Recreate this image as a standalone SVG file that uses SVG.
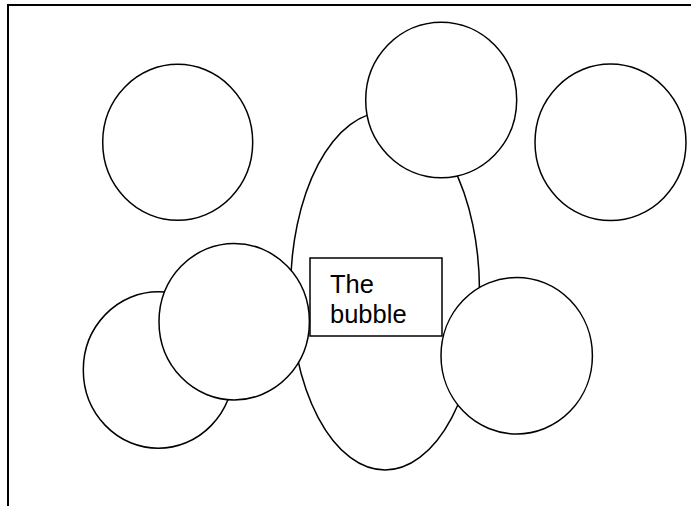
<svg xmlns="http://www.w3.org/2000/svg" width="691" height="506" viewBox="0 0 691 506">
<style>
.s{fill:#fff;stroke:#000;stroke-width:1.5}
.b{fill:none;stroke:#000;stroke-width:2}
.t{font-family:"Liberation Sans",Arial,sans-serif;font-size:25.5px;fill:#000}
</style>
<rect width="691" height="506" fill="#fff"/>
<g id="frame"><path class="b" d="M691,5 H8 V506"/></g>
<g id="connectors"></g>
<g id="bubble"><ellipse class="s" cx="385" cy="291" rx="94.5" ry="179"/></g>
<g id="label"><rect class="s" x="310" y="258" width="132" height="78"/>
<text class="t" x="330" y="293">The</text><text class="t" x="330" y="323">bubble</text></g>
<g id="c1"><ellipse class="s" cx="177.7" cy="142.3" rx="75" ry="78"/></g>
<g id="c2"><ellipse class="s" cx="441.2" cy="100" rx="75.5" ry="77.7"/></g>
<g id="c3"><ellipse class="s" cx="610.5" cy="142.3" rx="75.5" ry="78.3"/></g>
<g id="c4"><ellipse class="s" cx="158.3" cy="370" rx="75" ry="78.3"/></g>
<g id="c5"><ellipse class="s" cx="234.2" cy="321.7" rx="75.2" ry="78.3"/></g>
<g id="c6"><ellipse class="s" cx="516.7" cy="355.7" rx="75.7" ry="78.3"/></g>
</svg>
